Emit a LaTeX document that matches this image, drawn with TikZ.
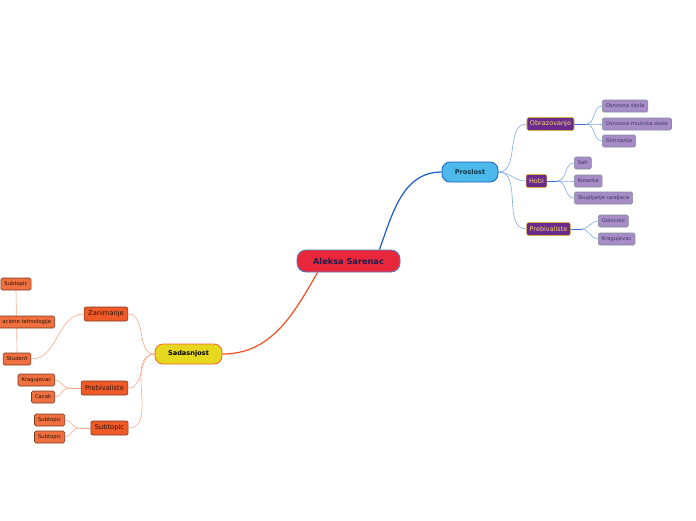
\documentclass[tikz,border=0pt]{standalone}
\usepackage{fontspec}
\setmainfont{DejaVu Sans}
\usetikzlibrary{backgrounds,calc}
\definecolor{rootfill}{HTML}{E8283A}
\definecolor{rootbd}{HTML}{4A80C8}
\definecolor{rootfg}{HTML}{1C1C50}
\definecolor{mainAfill}{HTML}{4DB8EA}
\definecolor{mainAbd}{HTML}{1A5FC8}
\definecolor{mainAfg}{HTML}{103A48}
\definecolor{mainBfill}{HTML}{E6D81E}
\definecolor{mainBbd}{HTML}{F06428}
\definecolor{subAfill}{HTML}{6A2C8C}
\definecolor{subAbd}{HTML}{D8B040}
\definecolor{subAfg}{HTML}{F5D870}
\definecolor{subBfill}{HTML}{F05A28}
\definecolor{subBbd}{HTML}{7A3A20}
\definecolor{subBfg}{HTML}{2A1408}
\definecolor{leafAfill}{HTML}{A88CC8}
\definecolor{leafAbd}{HTML}{7D8C99}
\definecolor{leafAfg}{HTML}{3C3C5C}
\definecolor{leafBfill}{HTML}{F07040}
\definecolor{leafBbd}{HTML}{7A3A20}
\definecolor{leafBfg}{HTML}{2A1408}
\definecolor{linkAcol}{HTML}{80AAE8}
\definecolor{hubAcol}{HTML}{3A70D0}
\definecolor{linkBcol}{HTML}{F8A888}
\definecolor{bigA}{HTML}{1A5CCC}
\definecolor{bigB}{HTML}{F05020}
\begin{document}
\begin{tikzpicture}[x=1pt,y=-1pt,
  every node/.style={inner ysep=0pt},
  rootbox/.style={draw=rootbd,fill=rootfill,text=rootfg,line width=0.8pt,rounded corners=9pt,minimum height=22pt,minimum width=103pt,font=\fontsize{8.2}{10}\selectfont\bfseries},
  mainA/.style={draw=mainAbd,fill=mainAfill,text=mainAfg,line width=0.8pt,rounded corners=8pt,minimum height=20pt,minimum width=56pt,font=\fontsize{6.6}{8}\selectfont\bfseries},
  mainB/.style={draw=mainBbd,fill=mainBfill,text=black,line width=0.8pt,rounded corners=8pt,minimum height=20pt,minimum width=67pt,font=\fontsize{6.6}{8}\selectfont\bfseries},
  subA/.style={draw=subAbd,fill=subAfill,text=subAfg,line width=0.6pt,rounded corners=2pt,minimum height=13pt,inner xsep=3pt,font=\fontsize{6.5}{8}\selectfont},
  subB/.style={draw=subBbd,fill=subBfill,text=subBfg,line width=0.6pt,rounded corners=2pt,minimum height=14pt,inner xsep=4pt,font=\fontsize{6.7}{8}\selectfont},
  leafA/.style={draw=leafAbd,fill=leafAfill,text=leafAfg,line width=0.6pt,rounded corners=1.5pt,minimum height=12pt,inner xsep=3.5pt,font=\fontsize{5.3}{6}\selectfont},
  leafB/.style={draw=leafBbd,fill=leafBfill,text=leafBfg,line width=0.6pt,rounded corners=1.5pt,minimum height=12pt,inner xsep=3.5pt,font=\fontsize{5.3}{6}\selectfont},
  linkA/.style={draw=linkAcol,line width=0.6pt},
  hubA/.style={draw=hubAcol,line width=1pt},
  linkB/.style={draw=linkBcol,line width=0.6pt},
]
\path[use as bounding box] (0,0) rectangle (696,520);
\clip (0,0) rectangle (696,520);

% nodes
\node[rootbox] (root) at (348.5,261) {Aleksa Sarenac};
\node[mainA] (pro) at (470,172) {Proslost};
\node[mainB] (sad) at (188.5,354) {Sadasnjost};

\node[subA] (obr) at (550.5,124) {Obrazovanje};
\node[subA] (hob) at (536.5,181) {Hobi};
\node[subA] (preA) at (548.5,229) {Prebivaliste};

\node[leafA,anchor=west] (os) at (602,106) {Osnovna skola};
\node[leafA,anchor=west] (oms) at (602,124) {Osnovna muzicka skola};
\node[leafA,anchor=west] (gim) at (602,141) {Gimnazija};
\node[leafA,anchor=west] (sah) at (574,163) {Sah};
\node[leafA,anchor=west] (kos) at (574,181) {Kosarka};
\node[leafA,anchor=west] (sku) at (574,198) {Skupljanje upaljaca};
\node[leafA,anchor=west] (gol) at (598,221) {Golocelo};
\node[leafA,anchor=west] (krA) at (598,239) {Kragujevac};

\node[subB] (zan) at (106,314) {Zanimanje};
\node[subB] (preB) at (104.5,388) {Prebivaliste};
\node[subB] (subt) at (109.5,428) {Subtopic};

\node[leafB] (s1) at (16,284) {Subtopic};
\node[leafB,anchor=east,text width=64pt,align=right] (it) at (55,322) {acione tehnologije};
\node[leafB] (stu) at (17,359) {Student};
\node[leafB,anchor=east] (krB) at (55,380) {Kragujevac};
\node[leafB,anchor=east] (cac) at (55,397) {Cacak};
\node[leafB,anchor=east] (s2) at (65,420) {Subtopic};
\node[leafB,anchor=east] (s3) at (65,437) {Subtopic};

\begin{scope}[on background layer]
% main connectors
\draw[bigA,line width=1.2pt] ($(root.north east)+(-21,0)$) to[out=70,in=180] (pro.west);
\draw[bigB,line width=1.2pt] ($(root.south west)+(21,0)$) to[out=-120,in=0] (sad.east);

% right branches
\draw[linkA] (pro.east) to[out=0,in=180] (obr.west);
\draw[linkA] (pro.east) to[out=0,in=180] (hob.west);
\draw[linkA] (pro.east) to[out=0,in=180] (preA.west);

\coordinate (h1) at ($(obr.east)+(12,0)$);
\coordinate (h2) at ($(hob.east)+(10,0)$);
\coordinate (h3) at ($(preA.east)+(11,0)$);
\draw[hubA] (obr.east) -- (h1);
\draw[hubA] (hob.east) -- (h2);
\draw[hubA] (preA.east) -- (h3);
\foreach \l in {os,oms,gim}{\draw[linkA] (h1) to[out=0,in=180] (\l.west);}
\foreach \l in {sah,kos,sku}{\draw[linkA] (h2) to[out=0,in=180] (\l.west);}
\foreach \l in {gol,krA}{\draw[linkA] (h3) to[out=0,in=180] (\l.west);}

% left branches
\draw[linkB] (sad.west) to[out=180,in=0] (zan.east);
\draw[linkB] (sad.west) to[out=180,in=0] (preB.east);
\draw[linkB] (sad.west) to[out=180,in=0] (subt.east);

\draw[linkB] (zan.west) to[out=180,in=0] (stu.east);
\draw[linkB] (s1.south) -- (stu.north);

\coordinate (h4) at ($(preB.west)+(-12,0)$);
\coordinate (h5) at ($(subt.west)+(-12,0)$);
\draw[linkB] (preB.west) -- (h4);
\draw[linkB] (subt.west) -- (h5);
\foreach \l in {krB,cac}{\draw[linkB] (h4) to[out=180,in=0] (\l.east);}
\foreach \l in {s2,s3}{\draw[linkB] (h5) to[out=180,in=0] (\l.east);}
\end{scope}
\end{tikzpicture}
\end{document}
